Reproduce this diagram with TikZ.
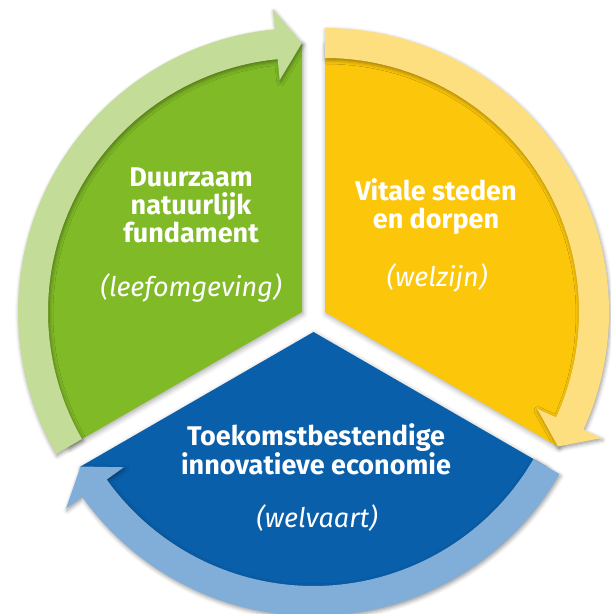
\documentclass[tikz,border=0pt]{standalone}
\usepackage{fontspec}
\setmainfont{Fira Sans}
\usetikzlibrary{shadows.blur}
\definecolor{gdark}{HTML}{80BA27}
\definecolor{glight}{HTML}{C3DC98}
\definecolor{ydark}{HTML}{FCC60A}
\definecolor{ylight}{HTML}{FEDF80}
\definecolor{bdark}{HTML}{0A5FAA}
\definecolor{blight}{HTML}{80AED8}
\tikzset{
  sectorshape/.style={blur shadow={shadow xshift=1pt,shadow yshift=-2pt,shadow blur radius=5pt,shadow opacity=35}},
  bandshape/.style={blur shadow={shadow xshift=1pt,shadow yshift=-2pt,shadow blur radius=4pt,shadow opacity=40}},
  titletext/.style={text=white,font=\fontsize{27}{30}\selectfont\bfseries,anchor=base,inner sep=0pt,text height=19pt,text depth=5pt},
  subtext/.style={text=white,font=\fontsize{27}{30}\selectfont\itshape,anchor=base,inner sep=0pt},
}
\begin{document}
\begin{tikzpicture}[x=1pt,y=1pt]
\useasboundingbox (0,0) rectangle (611,614);
% sectors: start angle, end angle, apex, dark colour
\foreach \sa/\ea/\px/\py/\dk in {210/90/302/302/gdark, 90/-30/325/302/ydark, -30/-150/313.5/282/bdark}{
  \begin{scope}[shift={(\px,\py)}]
    \fill[\dk,sectorshape] (0,0) -- (\sa:269pt) arc[start angle=\sa, end angle=\ea, radius=269pt] -- cycle;
  \end{scope}
}
% bands with arrow heads
\foreach \sa/\ea/\px/\py/\lt in {210/90/302/302/glight, 90/-30/325/302/ylight, -30/-150/313.5/282/blight}{
  \pgfmathsetmacro\hb{\ea+5.5}
  \begin{scope}[shift={(\px,\py)}]
    \fill[\lt,bandshape] (\sa:254pt) -- (\sa:284pt) arc[start angle=\sa, end angle=\hb, radius=284pt]
      -- (\hb:304pt) -- (\ea:269pt) -- (\hb:233pt) -- (\hb:254pt)
      arc[start angle=\hb, end angle=\sa, radius=254pt] -- cycle;
  \end{scope}
}
% texts
\node[titletext] (g1) at (191,427.3) {Duurzaam};
\node[titletext] (g2) at (191,399) {natuurlijk};
\node[titletext] (g3) at (191,371) {fundament};
\node[subtext] (g4) at (191,317) {(leefomgeving)};
\node[titletext] (y1) at (436,413.3) {Vitale steden};
\node[titletext] (y2) at (436,385.7) {en dorpen};
\node[subtext] (y3) at (437,327.3) {(welzijn)};
\node[titletext] (b1) at (316,168) {Toekomstbestendige};
\node[titletext] (b2) at (316,139.7) {innovatieve economie};
\node[subtext] (b3) at (317,86) {(welvaart)};
\end{tikzpicture}
\end{document}
